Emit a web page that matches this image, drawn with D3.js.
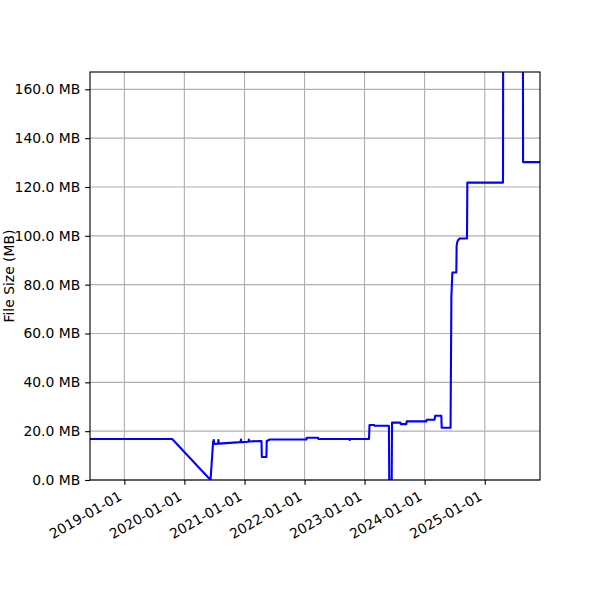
<!DOCTYPE html>
<html>
<head>
<meta charset="utf-8">
<script src="https://cdn.jsdelivr.net/npm/d3@7"></script>
<style>
  body { margin: 0; background: #fff; }
  svg { font-family: "DejaVu Sans", sans-serif; }
</style>
</head>
<body>
<div id="chart"></div>
<script>
// file size history
var dates = [
  '2018-06-06', '2019-10-19', '2020-06-08', '2020-06-24', '2020-06-28', '2020-06-30',
  '2020-07-24', '2020-07-26', '2020-07-28', '2020-12-08', '2020-12-10', '2020-12-12',
  '2021-01-25', '2021-01-27', '2021-01-29', '2021-04-14', '2021-04-16', '2021-05-14',
  '2021-05-16', '2021-06-04', '2022-01-12', '2022-01-14', '2022-03-24', '2022-03-26',
  '2022-10-02', '2022-10-03', '2022-10-04', '2023-01-28', '2023-01-31', '2023-03-01',
  '2023-03-03', '2023-05-29', '2023-05-31', '2023-06-15', '2023-06-17', '2023-08-07',
  '2023-08-09', '2023-09-12', '2023-09-14', '2024-01-12', '2024-01-14', '2024-03-02',
  '2024-03-05', '2024-04-12', '2024-04-14', '2024-06-07', '2024-06-12', '2024-06-18',
  '2024-07-12', '2024-07-14', '2024-07-18', '2024-07-23', '2024-08-01', '2024-09-15',
  '2024-09-17', '2025-04-22', '2025-04-24', '2025-08-20', '2025-08-22', '2025-12-03'
];
var sizes = [
  16.8, 16.8, 0.0, 15.7, 16.4, 14.8,
  14.9, 16.4, 14.9, 15.5, 16.6, 15.5,
  15.7, 16.6, 15.8, 16.0, 9.4, 9.4,
  16.0, 16.6, 16.6, 17.3, 17.3, 16.8,
  16.8, 16.4, 16.8, 16.8, 22.5, 22.5,
  22.2, 22.2, 0.0, 0.0, 23.5, 23.5,
  22.9, 22.9, 24.0, 24.0, 24.7, 24.7,
  26.3, 26.3, 21.4, 21.4, 75.0, 85.0,
  85.0, 96.0, 97.5, 98.2, 98.9, 98.9,
  121.8, 121.8, 260.0, 260.0, 130.2, 130.2
];
var yTicks = [0, 20, 40, 60, 80, 100, 120, 140, 160];
var xTicks = ['2019-01-01', '2020-01-01', '2021-01-01', '2022-01-01',
              '2023-01-01', '2024-01-01', '2025-01-01'];

var parse = d3.timeParse('%Y-%m-%d');
var points = dates.map(function(d, i) { return { date: parse(d), size: sizes[i] }; });

var margin = { top: 72, right: 60, bottom: 120, left: 90 };
var width  = 600 - margin.left - margin.right;
var height = 600 - margin.top - margin.bottom;
var pt = 100 / 72; // points to pixels

var svg = d3.select('#chart').append('svg')
  .attr('width', 600)
  .attr('height', 600);

var g = svg.append('g')
  .attr('transform', 'translate(' + margin.left + ',' + margin.top + ')');

var x = d3.scaleTime()
  .domain([points[0].date, points[points.length - 1].date])
  .range([0, width]);

var y = d3.scaleLinear()
  .domain([0, 167.1])
  .range([height, 0]);

// grid
g.append('g').selectAll('line').data(xTicks.map(parse))
  .enter().append('line')
  .attr('x1', function(d) { return x(d); })
  .attr('x2', function(d) { return x(d); })
  .attr('y1', 0).attr('y2', height)
  .attr('stroke', '#b0b0b0').attr('stroke-width', 0.8 * pt);

g.append('g').selectAll('line').data(yTicks)
  .enter().append('line')
  .attr('x1', 0).attr('x2', width)
  .attr('y1', function(d) { return y(d); })
  .attr('y2', function(d) { return y(d); })
  .attr('stroke', '#b0b0b0').attr('stroke-width', 0.8 * pt);

// the line, clipped to the plot
svg.append('defs').append('clipPath').attr('id', 'clip')
  .append('rect').attr('width', width).attr('height', height);

var line = d3.line()
  .x(function(d) { return x(d.date); })
  .y(function(d) { return y(d.size); });

g.append('path')
  .datum(points)
  .attr('clip-path', 'url(#clip)')
  .attr('fill', 'none')
  .attr('stroke', 'blue')
  .attr('stroke-width', 1.5 * pt)
  .attr('stroke-linejoin', 'round')
  .attr('d', line);

// axes
var yAxis = d3.axisLeft(y)
  .tickValues(yTicks)
  .tickSize(3.5 * pt)
  .tickPadding(3.5 * pt)
  .tickFormat(function(d) { return d3.format('.1f')(d) + ' MB'; });

var yGuide = g.append('g').call(yAxis);
yGuide.select('.domain').remove();
yGuide.selectAll('line').attr('stroke', '#000').attr('stroke-width', 0.8 * pt);
yGuide.selectAll('text')
  .attr('fill', '#000')
  .style('font-size', '13.9px')
  .style('font-family', '"DejaVu Sans", sans-serif');

var xAxis = d3.axisBottom(x)
  .tickValues(xTicks.map(parse))
  .tickSize(3.5 * pt)
  .tickFormat(d3.timeFormat('%Y-%m-%d'));

var xGuide = g.append('g')
  .attr('transform', 'translate(0,' + height + ')')
  .call(xAxis);
xGuide.select('.domain').remove();
xGuide.selectAll('line').attr('stroke', '#000').attr('stroke-width', 0.8 * pt);
xGuide.selectAll('text')
  .attr('fill', '#000')
  .attr('y', 0).attr('dy', 0)
  .attr('transform', 'translate(-2,19) rotate(-30)')
  .style('text-anchor', 'end')
  .style('font-size', '13.9px')
  .style('font-family', '"DejaVu Sans", sans-serif');

// frame
g.append('rect')
  .attr('width', width).attr('height', height)
  .attr('fill', 'none')
  .attr('stroke', '#000').attr('stroke-width', 0.8 * pt);

// y label
svg.append('text')
  .attr('transform', 'translate(14,' + (margin.top + height / 2) + ') rotate(-90)')
  .style('text-anchor', 'middle')
  .style('font-size', '13.9px')
  .text('File Size (MB)');
</script>
</body>
</html>
